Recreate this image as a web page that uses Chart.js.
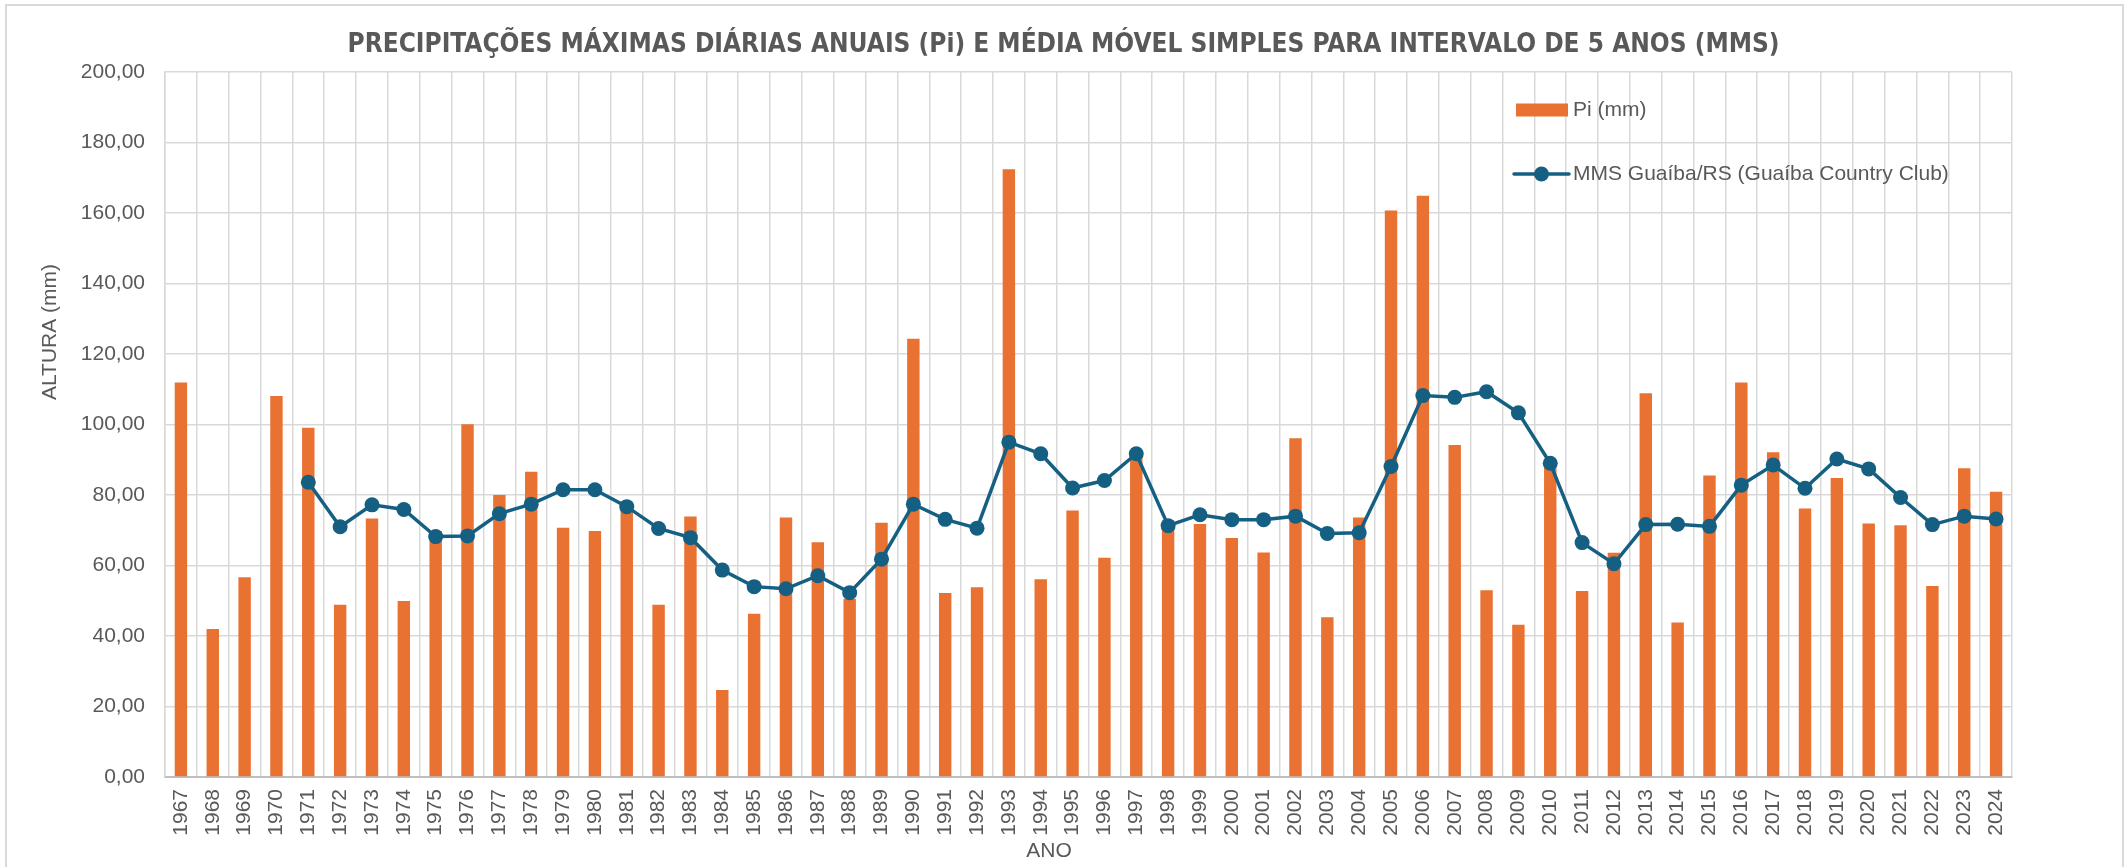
<!DOCTYPE html>
<html lang="pt-BR">
<head>
<meta charset="utf-8">
<title>Precipitações máximas diárias anuais - Guaíba/RS</title>
<script src="https://cdn.jsdelivr.net/npm/chart.js@4.4.1/dist/chart.umd.min.js"></script>
<style>
  html, body { margin: 0; padding: 0; background: #ffffff; }
  #quadro { position: relative; width: 2127px; height: 867px; }
  #moldura {
    position: absolute; left: 5px; top: 4px; right: 3px; bottom: -4px;
    border: 2px solid #d9d9d9; pointer-events: none;
  }
</style>
</head>
<body>
<div id="quadro">
  <canvas id="grafico-pi-mms"></canvas>
  <div id="moldura"></div>
</div>
<script>
'use strict';

// Dados
const anos = [
  '1967', '1968', '1969', '1970', '1971', '1972', '1973', '1974', '1975', '1976',
  '1977', '1978', '1979', '1980', '1981', '1982', '1983', '1984', '1985', '1986',
  '1987', '1988', '1989', '1990', '1991', '1992', '1993', '1994', '1995', '1996',
  '1997', '1998', '1999', '2000', '2001', '2002', '2003', '2004', '2005', '2006',
  '2007', '2008', '2009', '2010', '2011', '2012', '2013', '2014', '2015', '2016',
  '2017', '2018', '2019', '2020', '2021', '2022', '2023', '2024'
];

// Pi (mm) - precipitação máxima diária de cada ano
const precipMaxima = [
  111.9, 42.0, 56.7, 108.1, 99.1, 48.9, 73.3, 49.9, 69.8, 100.1,
  80.0, 86.6, 70.7, 69.8, 76.2, 48.9, 73.9, 24.7, 46.3, 73.6,
  66.6, 50.6, 72.1, 124.3, 52.2, 53.8, 172.4, 56.1, 75.6, 62.2,
  91.3, 70.9, 71.8, 67.8, 63.7, 96.1, 45.3, 73.6, 160.7, 164.9,
  94.2, 53.0, 43.2, 89.0, 52.8, 63.6, 108.9, 43.8, 85.5, 111.9,
  92.1, 76.2, 84.8, 71.9, 71.4, 54.2, 87.6, 80.9
];

// MMS - média móvel simples de 5 anos (começa em 1971)
const mediaMovel = [
  null, null, null, null, 83.6, 71.0, 77.2, 75.9, 68.2, 68.4,
  74.7, 77.4, 81.5, 81.5, 76.7, 70.5, 67.9, 58.7, 54.0, 53.4,
  57.1, 52.3, 61.8, 77.4, 73.1, 70.6, 95.0, 91.7, 82.0, 84.1,
  91.7, 71.3, 74.4, 73.0, 73.0, 74.0, 69.1, 69.3, 88.1, 108.2,
  107.7, 109.3, 103.3, 89.0, 66.5, 60.5, 71.6, 71.7, 71.1, 82.8,
  88.5, 81.9, 90.2, 87.4, 79.3, 71.6, 74.0, 73.2
];

const rotuloPi = 'Pi (mm)';
const rotuloMms = 'MMS Guaíba/RS (Guaíba Country Club)';
const tituloEixoY = 'ALTURA (mm)';
const tituloEixoX = 'ANO';

const COR_BARRA = '#e97132';
const COR_LINHA = '#156082';
const COR_TEXTO = '#595959';
const COR_GRADE = '#d9d9d9';
const FONTE = "'Liberation Sans', Arial, sans-serif";

function formatarDecimal(valor) {
  return valor.toFixed(2).replace('.', ',');
}

// Legenda (canto superior direito) e títulos dos eixos
const pluginLegenda = {
  id: 'legendaInterna',
  afterDraw: function (chart) {
    const ctx = chart.ctx;
    const x0 = 1514;
    ctx.save();
    ctx.font = '21px ' + FONTE;
    ctx.textBaseline = 'middle';
    ctx.textAlign = 'left';

    ctx.fillStyle = COR_BARRA;
    ctx.fillRect(x0 + 2, 103.5, 52, 13);
    ctx.fillStyle = COR_TEXTO;
    ctx.fillText(rotuloPi, x0 + 59, 110);

    ctx.strokeStyle = COR_LINHA;
    ctx.lineWidth = 3.5;
    ctx.lineCap = 'round';
    ctx.beginPath();
    ctx.moveTo(x0, 174);
    ctx.lineTo(x0 + 55, 174);
    ctx.stroke();
    ctx.fillStyle = COR_LINHA;
    ctx.beginPath();
    ctx.arc(x0 + 27.5, 174, 7.5, 0, Math.PI * 2);
    ctx.fill();
    ctx.fillStyle = COR_TEXTO;
    ctx.fillText(rotuloMms, x0 + 59, 174);

    // títulos dos eixos
    ctx.textAlign = 'center';
    ctx.fillText(tituloEixoX, 1049, 851);
    ctx.translate(50, 332);
    ctx.rotate(-Math.PI / 2);
    ctx.fillText(tituloEixoY, 0, 0);
    ctx.restore();
  }
};

const canvas = document.getElementById('grafico-pi-mms');

new Chart(canvas.getContext('2d'), {
  type: 'bar',
  data: {
    labels: anos,
    datasets: [
      {
        type: 'bar',
        label: rotuloPi,
        data: precipMaxima,
        backgroundColor: COR_BARRA,
        categoryPercentage: 1.0,
        barPercentage: 0.39,
        order: 2
      },
      {
        type: 'line',
        label: rotuloMms,
        data: mediaMovel,
        borderColor: COR_LINHA,
        backgroundColor: COR_LINHA,
        borderWidth: 3.5,
        pointRadius: 7.5,
        pointBackgroundColor: COR_LINHA,
        pointBorderWidth: 0,
        tension: 0,
        spanGaps: false,
        order: 1
      }
    ]
  },
  options: {
    responsive: true,
    maintainAspectRatio: false,
    animation: false,
    layout: { padding: 0 },
    scales: {
      x: {
        offset: true,
        grid: { color: COR_GRADE, lineWidth: 1.5, offset: true, drawTicks: false },
        border: { color: '#bfbfbf', width: 2 },
        ticks: {
          color: COR_TEXTO,
          font: { family: FONTE, size: 21 },
          minRotation: 90,
          maxRotation: 90,
          autoSkip: false,
          padding: 12
        },
        afterFit: function (scale) { scale.height = 90; }
      },
      y: {
        min: 0,
        max: 200,
        grid: { color: COR_GRADE, lineWidth: 1.5, drawTicks: false },
        border: { color: COR_GRADE, width: 1.5 },
        ticks: {
          stepSize: 20,
          color: COR_TEXTO,
          font: { family: FONTE, size: 21 },
          padding: 20,
          callback: function (v) { return formatarDecimal(v); }
        },
        afterFit: function (scale) { scale.width = 165; }
      },
      yDireita: {
        position: 'right',
        display: true,
        grid: { display: false },
        border: { display: false },
        ticks: { display: false },
        afterFit: function (scale) { scale.width = 115; }
      }
    },
    plugins: {
      legend: { display: false },
      tooltip: { enabled: false },
      title: {
        display: true,
        text: 'PRECIPITAÇÕES MÁXIMAS DIÁRIAS ANUAIS (Pi) E MÉDIA MÓVEL SIMPLES PARA INTERVALO DE 5 ANOS (MMS)',
        color: COR_TEXTO,
        font: { family: "'Liberation Sans Narrow', 'DejaVu Sans Condensed', sans-serif", size: 26, weight: 'bold', lineHeight: 1.2 },
        padding: { top: 29.4, bottom: 11.4 }
      }
    }
  },
  plugins: [pluginLegenda]
});
</script>
</body>
</html>
